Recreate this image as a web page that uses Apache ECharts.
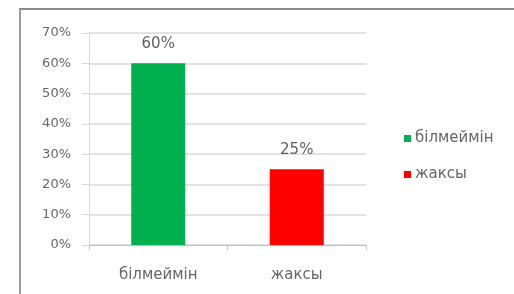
<!DOCTYPE html>
<html>
<head>
<meta charset="utf-8">
<script src="https://cdn.jsdelivr.net/npm/echarts@6/dist/echarts.min.js"></script>
<style>
  html, body { margin: 0; padding: 0; background: #fff; }
  .chartWrap { position: relative; width: 514px; height: 294px; }
  .chartWrap .frame {
    position: absolute; left: 19px; top: 8px; right: 0; bottom: 0;
    border-top: 2px solid #8a8a8a; border-left: 2px solid #9a9a9a;
  }
  #main { position: absolute; left: 0; top: 0; width: 514px; height: 294px; }
</style>
</head>
<body>
<div class="chartWrap">
  <div class="frame"></div>
  <div id="main"></div>
</div>
<script>
  // answers and their share
  var categories = ['білмеймін', 'жаксы'];
  var knowNot = [60, null];
  var good = [null, 25];
  var colors = ['#00b050', '#ff0000'];

  var chart = echarts.init(document.getElementById('main'));
  var labelFont = 'DejaVu Sans, sans-serif';

  function barSeries(name, data, color) {
    return {
      name: name,
      type: 'bar',
      stack: 'one',
      barWidth: '39%',
      data: data,
      itemStyle: { color: color },
      label: {
        show: true,
        position: 'top',
        distance: 12,
        formatter: '{c}%',
        color: '#606060',
        fontSize: 15,
        fontFamily: labelFont
      }
    };
  }

  var option = {
    animation: false,
    backgroundColor: 'transparent',
    grid: { left: 89, right: 148, top: 33, bottom: 49 },
    legend: {
      orient: 'vertical',
      left: 399,
      top: 126,
      itemWidth: 7,
      itemHeight: 7,
      itemGap: 21,
      icon: 'rect',
      data: categories,
      textStyle: { color: '#666', fontSize: 15, fontFamily: labelFont, padding: [0, 0, 0, -1] }
    },
    xAxis: {
      type: 'category',
      data: categories,
      axisLine: { lineStyle: { color: '#bfbfbf' } },
      axisTick: { show: true, length: 5, lineStyle: { color: '#bfbfbf' } },
      axisLabel: { margin: 23, color: '#666', fontSize: 15, fontFamily: labelFont }
    },
    yAxis: {
      type: 'value',
      min: 0,
      max: 70,
      interval: 10,
      axisLine: { show: true, lineStyle: { color: '#d9d9d9' } },
      axisTick: { show: true, length: 7, lineStyle: { color: '#d9d9d9' } },
      splitLine: { lineStyle: { color: '#d9d9d9', width: 1.5 } },
      axisLabel: { formatter: '{value}%', margin: 18, color: '#666', fontSize: 13, fontFamily: labelFont }
    },
    series: [
      barSeries(categories[0], knowNot, colors[0]),
      barSeries(categories[1], good, colors[1])
    ]
  };
  chart.setOption(option);
</script>
</body>
</html>
